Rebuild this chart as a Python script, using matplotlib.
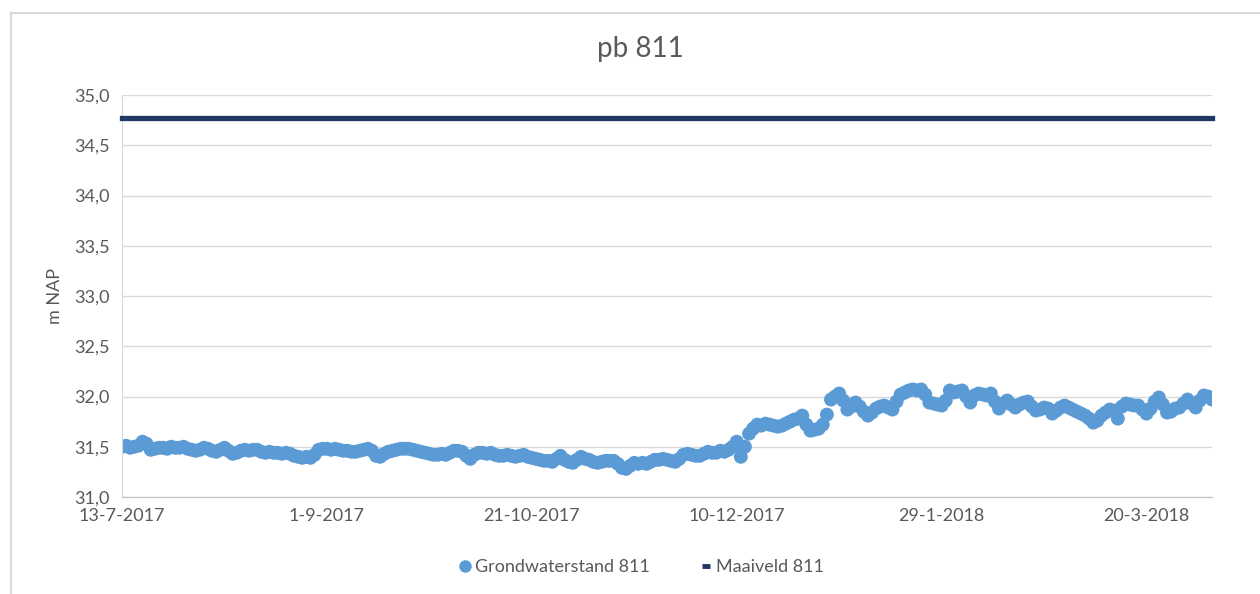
import pandas as pd
import matplotlib.pyplot as plt
from matplotlib.lines import Line2D
from matplotlib.ticker import FuncFormatter, MultipleLocator

plt.rcParams['font.family'] = ['Lato', 'DejaVu Sans']

start_date = '2017-07-13'
grondwater = [
    31.50, 31.51, 31.49, 31.50, 31.51, 31.55, 31.53, 31.47, 31.48, 31.49,
    31.49, 31.48, 31.50, 31.49, 31.49, 31.50, 31.48, 31.47, 31.46, 31.47,
    31.49, 31.48, 31.46, 31.45, 31.47, 31.49, 31.46, 31.43, 31.44, 31.46,
    31.47, 31.46, 31.47, 31.47, 31.45, 31.44, 31.45, 31.44, 31.44, 31.43,
    31.44, 31.43, 31.41, 31.40, 31.39, 31.40, 31.39, 31.42, 31.47, 31.48,
    31.48, 31.47, 31.48, 31.47, 31.46, 31.46, 31.45, 31.45, 31.46, 31.47,
    31.48, 31.46, 31.41, 31.40, 31.43, 31.45, 31.46, 31.47, 31.48, 31.48,
    31.48, 31.47, 31.46, 31.45, 31.44, 31.43, 31.42, 31.42, 31.43, 31.42,
    31.44, 31.46, 31.46, 31.45, 31.41, 31.38, 31.42, 31.44, 31.44, 31.43,
    31.44, 31.42, 31.41, 31.41, 31.42, 31.41, 31.40, 31.41, 31.42, 31.40,
    31.39, 31.38, 31.37, 31.36, 31.36, 31.35, 31.38, 31.41, 31.37, 31.35,
    31.34, 31.37, 31.40, 31.38, 31.37, 31.35, 31.34, 31.35, 31.36, 31.36,
    31.36, 31.33, 31.29, 31.28, 31.31, 31.34, 31.33, 31.34, 31.33, 31.35,
    31.37, 31.37, 31.38, 31.37, 31.36, 31.35, 31.38, 31.42, 31.43, 31.42,
    31.41, 31.41, 31.43, 31.45, 31.44, 31.44, 31.46, 31.45, 31.47, 31.50,
    31.55, 31.40, 31.50, 31.63, 31.68, 31.72, 31.71, 31.73, 31.72, 31.71,
    31.70, 31.71, 31.73, 31.75, 31.77, 31.78, 31.81, 31.72, 31.66, 31.67,
    31.68, 31.72, 31.82, 31.97, 32.00, 32.03, 31.96, 31.87, 31.90, 31.94,
    31.90, 31.85, 31.81, 31.84, 31.88, 31.90, 31.91, 31.89, 31.87, 31.95,
    32.02, 32.04, 32.06, 32.07, 32.06, 32.07, 32.02, 31.94, 31.93, 31.92,
    31.91, 31.96, 32.06, 32.04, 32.05, 32.06, 32.00, 31.94, 32.01, 32.03,
    32.02, 32.01, 32.03, 31.95, 31.88, 31.93, 31.96, 31.92, 31.89, 31.92,
    31.94, 31.95, 31.90, 31.86, 31.87, 31.89, 31.88, 31.83, 31.86, 31.89,
    31.91, 31.89, 31.87, 31.85, 31.83, 31.81, 31.78, 31.74, 31.76, 31.81,
    31.84, 31.87, 31.86, 31.78, 31.90, 31.93, 31.92, 31.91, 31.91, 31.87,
    31.83, 31.88, 31.95, 31.99, 31.92, 31.84, 31.85, 31.88, 31.89, 31.93,
    31.97, 31.93, 31.89, 31.96, 32.01, 32.00, 31.97,
]
maaiveld = 34.77
tick_dates = ['2017-07-13', '2017-09-01', '2017-10-21', '2017-12-10', '2018-01-29', '2018-03-20']
tick_labels = ['13-7-2017', '1-9-2017', '21-10-2017', '10-12-2017', '29-1-2018', '20-3-2018']

dates = pd.date_range(start_date, periods=len(grondwater), freq='D')
blue = '#5B9BD5'
navy = '#1F3864'
grey = '#595959'

fig = plt.figure(figsize=(12.6, 5.94), dpi=100)
ax = fig.add_axes([0.0968, 0.1633, 0.8652, 0.6767])

ax.plot(dates, [maaiveld] * len(dates), color=navy, lw=3.8, solid_capstyle='projecting',
        clip_on=False, zorder=3)
ax.scatter(dates, grondwater, s=100, color=blue, edgecolors='none', zorder=2)

ax.set_ylim(31.0, 35.0)
ax.yaxis.set_major_locator(MultipleLocator(0.5))
ax.yaxis.set_major_formatter(FuncFormatter(lambda v, p: f'{v:.1f}'.replace('.', ',')))
ax.set_xlim(pd.Timestamp('2017-07-13'), pd.Timestamp('2018-04-05'))
ax.set_xticks(pd.to_datetime(tick_dates))
ax.set_xticklabels(tick_labels)

ax.grid(axis='y', color='#D9D9D9', lw=1)
ax.set_axisbelow(True)
for s in ['top', 'right']:
    ax.spines[s].set_visible(False)
ax.spines['left'].set_color('#D9D9D9')
ax.spines['bottom'].set_color('#BFBFBF')
ax.tick_params(length=0, labelsize=13, colors=grey, pad=8)
ax.tick_params(axis='y', pad=9)

ax.set_ylabel('m NAP', fontsize=13, color=grey, labelpad=8)
fig.text(0.508, 0.918, 'pb 811', ha='center', va='center', fontsize=20, color=grey)

handles = [
    Line2D([], [], ls='none', marker='o', markersize=9, color=blue, markeredgecolor='none'),
    Line2D([], [], ls='none', marker='_', markersize=6, markeredgewidth=3.5, color=navy),
]
fig.legend(handles, ['Grondwaterstand 811', 'Maaiveld 811'], loc='center',
           bbox_to_anchor=(0.508, 0.045), ncol=2, frameon=False, fontsize=13,
           labelcolor=grey, handletextpad=0.05, columnspacing=2.6, handlelength=1.0)

# chart border (top and left edge of the frame)
fig.add_artist(Line2D([0.0087, 1.0], [0.978, 0.978], transform=fig.transFigure, color='#D9D9D9', lw=1.5))
fig.add_artist(Line2D([0.0087, 0.0087], [0.0, 0.978], transform=fig.transFigure, color='#D9D9D9', lw=1.5))

fig.savefig('out.png', dpi=100)
plt.close()
